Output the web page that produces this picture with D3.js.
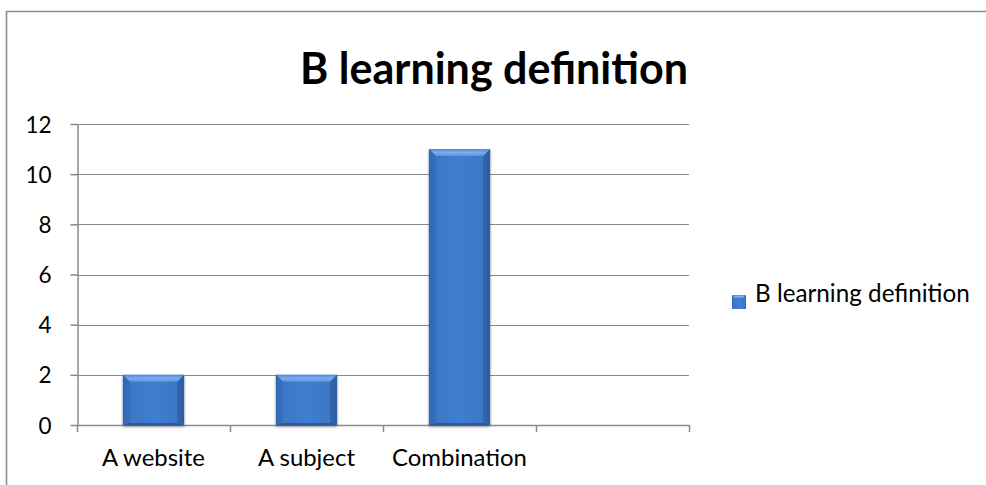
<!DOCTYPE html>
<html><head><meta charset="utf-8">
<script src="https://cdn.jsdelivr.net/npm/d3@7/dist/d3.min.js"></script>
<style>html,body{margin:0;padding:0;background:#fff;}svg{display:block;}</style>
</head><body>
<svg id="c" width="986" height="485"></svg>
<script>
const categories = ["A website", "A subject", "Combination", ""];
const values = [2, 2, 11, null];
const yTicks = [0, 2, 4, 6, 8, 10, 12];
const seriesName = "B learning definition";
const titleText = "B learning definition";

const svg = d3.select("#c");
const FONT = "Lato, 'Open Sans', sans-serif";

// chart border
svg.append("path").attr("d", "M6.5,600 L6.5,11.5 L1100,11.5")
  .attr("fill", "none").attr("stroke", "#8c8c8c").attr("stroke-width", 1.6);

const plot = {left: 77, right: 689, top: 124, bottom: 425};
const x = d3.scaleBand().domain(categories.map((c, i) => i))
  .range([plot.left, plot.right]).paddingInner(0.6).paddingOuter(0.3);
const y = d3.scaleLinear().domain([0, 12]).range([plot.bottom, plot.top]);

function fitSize(sel, target) {
  const w = sel.node().getComputedTextLength();
  const fs = parseFloat(sel.attr("font-size"));
  return fs * target / w;
}

const defs = svg.append("defs");
const gBody = defs.append("linearGradient").attr("id", "gBody").attr("x1", 0).attr("x2", 1).attr("y1", 0).attr("y2", 0);
gBody.append("stop").attr("offset", 0).attr("stop-color", "#2d63ad");
gBody.append("stop").attr("offset", 0.08).attr("stop-color", "#3a76c6");
gBody.append("stop").attr("offset", 0.5).attr("stop-color", "#407ecf");
gBody.append("stop").attr("offset", 0.92).attr("stop-color", "#3a76c6");
gBody.append("stop").attr("offset", 1).attr("stop-color", "#2d5fa6");
const gTop = defs.append("linearGradient").attr("id", "gTop").attr("x1", 0).attr("x2", 0).attr("y1", 0).attr("y2", 1);
gTop.append("stop").attr("offset", 0).attr("stop-color", "#4f89d6");
gTop.append("stop").attr("offset", 0.5).attr("stop-color", "#7aaeee");
gTop.append("stop").attr("offset", 1).attr("stop-color", "#5b93dc");
const gShadow = defs.append("filter").attr("id", "sh").attr("x", "-20%").attr("y", "-20%").attr("width", "140%").attr("height", "140%");
gShadow.append("feGaussianBlur").attr("in", "SourceAlpha").attr("stdDeviation", 1.5);
gShadow.append("feOffset").attr("dx", 0).attr("dy", 1.5).attr("result", "b");
gShadow.append("feComponentTransfer").append("feFuncA").attr("type", "linear").attr("slope", 0.35);
const fm = gShadow.append("feMerge");
fm.append("feMergeNode");
fm.append("feMergeNode").attr("in", "SourceGraphic");

// gridlines
svg.append("g").selectAll("line").data(yTicks.filter(t => t > 0)).join("line")
  .attr("x1", plot.left).attr("x2", plot.right)
  .attr("y1", d => Math.round(y(d)) + 0.5).attr("y2", d => Math.round(y(d)) + 0.5)
  .attr("stroke", "#8a8a8a").attr("stroke-width", 1.2);

// y axis
const yAxis = svg.append("g").attr("transform", `translate(${plot.left + 0.5},0)`)
  .call(d3.axisLeft(y).tickValues(yTicks).tickSize(7).tickPadding(19).tickSizeOuter(0));
yAxis.select(".domain").attr("stroke", "#8a8a8a").attr("stroke-width", 1.5);
yAxis.selectAll(".tick line").attr("stroke", "#8a8a8a").attr("stroke-width", 1.5);
yAxis.selectAll(".tick text").attr("font-family", FONT).attr("font-size", 22.5).attr("fill", "#000").attr("dy", "0.36em");

// x axis line + boundary ticks
const xg = svg.append("g");
xg.append("line").attr("x1", plot.left).attr("x2", plot.right)
  .attr("y1", plot.bottom + 0.5).attr("y2", plot.bottom + 0.5)
  .attr("stroke", "#8a8a8a").attr("stroke-width", 1.5);
const step = x.step();
const bounds = d3.range(categories.length + 1).map(i => plot.left + i * step);
xg.selectAll("line.tk").data(bounds).join("line").attr("class", "tk")
  .attr("x1", d => Math.round(d) + 0.5).attr("x2", d => Math.round(d) + 0.5)
  .attr("y1", plot.bottom).attr("y2", plot.bottom + 7)
  .attr("stroke", "#8a8a8a").attr("stroke-width", 1.5);
const xl = xg.selectAll("text").data(categories).join("text")
  .attr("x", (d, i) => x(i) + x.bandwidth() / 2).attr("y", 466)
  .attr("text-anchor", "middle").attr("font-family", FONT).attr("font-size", 21).attr("fill", "#000")
  .text(d => d);
const xfs = fitSize(xl.filter((d, i) => i === 0), 103);
xl.attr("font-size", xfs);

// bars
const bars = svg.append("g").selectAll("g").data(values.map((v, i) => ({v, i})).filter(d => d.v != null)).join("g")
  .attr("filter", "url(#sh)");
bars.append("rect")
  .attr("x", d => x(d.i)).attr("y", d => y(d.v))
  .attr("width", x.bandwidth()).attr("height", d => y(0) - y(d.v))
  .attr("fill", "url(#gBody)");
const bev = 7;
bars.append("path").attr("d", d => {
  const x0 = x(d.i), x1 = x0 + x.bandwidth(), y0 = y(d.v);
  return `M${x0},${y0}L${x1},${y0}L${x1 - bev},${y0 + bev}L${x0 + bev},${y0 + bev}Z`;
}).attr("fill", "url(#gTop)");
bars.append("path").attr("d", d => {
  const x0 = x(d.i), y0 = y(d.v), yb = y(0);
  return `M${x0},${y0}L${x0 + bev},${y0 + bev}L${x0 + bev},${yb - 2}L${x0},${yb}Z`;
}).attr("fill", "#3469b5").attr("opacity", 0.7);
bars.append("path").attr("d", d => {
  const x1 = x(d.i) + x.bandwidth(), y0 = y(d.v), yb = y(0);
  return `M${x1},${y0}L${x1 - bev},${y0 + bev}L${x1 - bev},${yb - 2}L${x1},${yb}Z`;
}).attr("fill", "#2c5c9f").attr("opacity", 0.7);
bars.append("path").attr("d", d => {
  const x0 = x(d.i), x1 = x0 + x.bandwidth(), yb = y(0);
  return `M${x0},${yb}L${x0 + bev},${yb - 2}L${x1 - bev},${yb - 2}L${x1},${yb}Z`;
}).attr("fill", "#2a5a9c");

// title
const title = svg.append("text").attr("x", 494).attr("y", 84).attr("text-anchor", "middle")
  .attr("font-family", FONT).attr("font-weight", "bold").attr("font-size", 40).attr("fill", "#000")
  .text(titleText);
title.attr("font-size", fitSize(title, 388));

// legend
const lg = svg.append("g");
lg.append("rect").attr("x", 732).attr("y", 295).attr("width", 14).attr("height", 14).attr("fill", "url(#gBody)");
lg.append("path").attr("d", "M732,295L746,295L743,298L735,298Z").attr("fill", "url(#gTop)");
const lt = lg.append("text").attr("x", 755).attr("y", 302).attr("font-family", FONT).attr("font-size", 22).attr("fill", "#000")
  .text(seriesName);
lt.attr("font-size", fitSize(lt, 215));
</script>
</body></html>
